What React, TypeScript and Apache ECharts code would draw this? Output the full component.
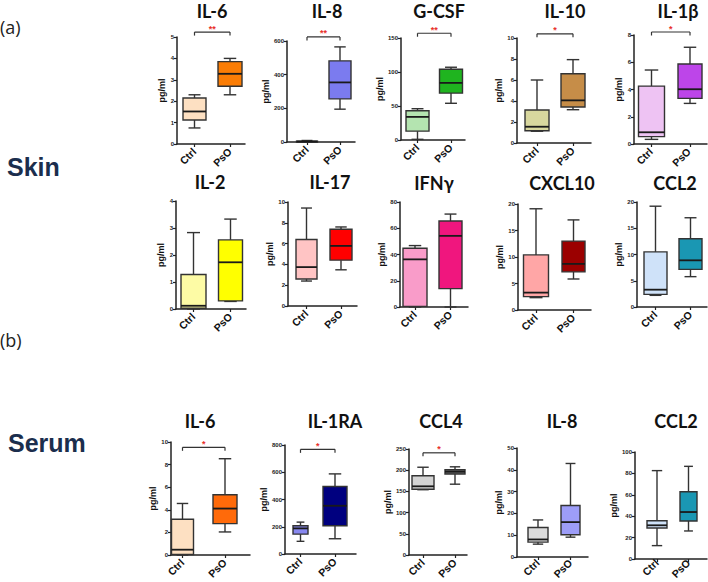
import React, { useEffect, useRef } from "react";
import * as echarts from "echarts";

// ---------- data ----------
const groups = ["Ctrl", "PsO"];

// [min, Q1, median, Q3, max] for Ctrl and PsO
const skinIL6 = [[0.75, 1.12, 1.52, 2.15, 2.3], [2.3, 2.7, 3.28, 3.85, 4.0]];
const skinIL8 = [[0, 1, 3, 5, 9], [195, 256, 354, 482, 565]];
const skinGCSF = [[1, 13, 34, 43, 46], [54, 69, 84, 104, 107]];
const skinIL10 = [[1.12, 1.17, 1.55, 3.15, 6.0], [3.17, 3.43, 4.06, 6.6, 7.94]];
const skinIL1b = [[0.34, 0.54, 0.86, 4.25, 5.43], [2.98, 3.35, 4.02, 5.87, 7.1]];
const skinIL2 = [[0, 0.03, 0.12, 1.28, 2.83], [0.28, 0.3, 1.73, 2.56, 3.33]];
const skinIL17 = [[2.4, 2.59, 3.74, 6.39, 9.42], [3.48, 4.41, 5.78, 7.38, 7.6]];
const skinIFNg = [[0, 0.5, 36.3, 44.8, 46.8], [0, 14, 54.2, 65.5, 70.8]];
const skinCXCL10 = [[2.33, 2.52, 3.28, 10.4, 19.1], [5.85, 7.2, 8.7, 13.0, 17.0]];
const skinCCL2 = [[2.22, 2.41, 3.3, 10.5, 19.2], [5.78, 7.17, 8.89, 13.0, 17.0]];
const serumIL6 = [[0, 0.05, 0.47, 3.17, 4.56], [2.04, 2.78, 4.11, 5.33, 8.52]];
const serumIL1RA = [[93, 146, 188, 207, 234], [112, 207, 354, 495, 588]];
const serumCCL4 = [[154, 155, 162, 187, 207], [167, 191, 196.5, 201, 208]];
const serumIL8 = [[5.9, 6.84, 8.05, 13.5, 17.0], [9.1, 10.2, 16.0, 23.6, 42.9]];
const serumCCL2 = [[12.5, 29, 31.5, 35.8, 82.6], [26.2, 35.5, 43.9, 62.9, 86.6]];

const panelNames = [
  "IL-6", "IL-8", "G-CSF", "IL-10", "IL-1β",
  "IL-2", "IL-17", "IFNγ", "CXCL10", "CCL2",
  "IL-6", "IL-1RA", "CCL4", "IL-8", "CCL2",
];
const panelStats = [
  skinIL6, skinIL8, skinGCSF, skinIL10, skinIL1b,
  skinIL2, skinIL17, skinIFNg, skinCXCL10, skinCCL2,
  serumIL6, serumIL1RA, serumCCL4, serumIL8, serumCCL2,
];
// y axis max and tick step
const axisMax = [5, 600, 150, 10, 8, 4, 10, 80, 20, 20, 10, 800, 250, 50, 100];
const axisStep = [1, 200, 50, 2, 2, 1, 2, 20, 5, 5, 2, 200, 50, 10, 20];
// significance brackets
const sigPanels = [0, 1, 2, 3, 4, 10, 11, 12];
const sigLevels = [5.23, 624, 157, 10.4, 8.22, 9.53, 768, 241];
const sigStars = ["**", "**", "**", "*", "*", "*", "*", "*"];

// ---------- styles / layout ----------
const panelColors = [
  ["#fde0c2", "#fb7d05"], ["#8c8cf5", "#7b7bef"], ["#b4e4b0", "#1fb41f"],
  ["#d8d79e", "#c68d48"], ["#eec3f3", "#bd45e9"],
  ["#fdfba5", "#ffff00"], ["#ffc4c4", "#ff0000"], ["#f99cc9", "#f0167e"],
  ["#ffa6a6", "#9b0000"], ["#cfe2f9", "#1a97b3"],
  ["#fde0c2", "#ff6a0a"], ["#8888f0", "#00007f"], ["#d4d4d4", "#747474"],
  ["#dcdcdc", "#9d9df8"], ["#cfe2f9", "#1a97b3"],
];
// [axisX, ctrlCenter, psoCenter, axisEnd, top, bottom, boxW1, boxW2, titleX, titleY]
const layout = [
  [177, 194.5, 230, 245, 37, 144, 23, 24, 212, 11],
  [287, 307, 340, 355, 41, 142, 21, 22, 327, 11],
  [401, 417.5, 451, 465, 38, 140, 23, 23, 439, 11],
  [517, 537, 573, 591, 38, 143, 24, 24, 565, 11],
  [634, 651.5, 690, 707, 35, 144, 26, 24, 678, 11],
  [176, 193.5, 230.5, 246, 201, 309, 25, 24, 210, 182],
  [288, 306.5, 341, 357, 202, 306, 21, 22, 330, 182],
  [400, 415, 450.5, 468, 202, 307, 24, 23, 434, 183],
  [518, 536, 573.5, 591, 204, 310, 25, 23, 562, 183],
  [637, 655.5, 690.5, 707, 202, 307, 23, 23, 675, 183],
  [171, 182.5, 225, 250, 442, 555, 22, 24, 200, 421],
  [285, 300.5, 335, 356, 445, 554, 15, 24, 335, 421],
  [409, 423, 455, 467, 449, 555, 22, 20, 441, 421],
  [517, 538, 570.5, 588, 448, 557, 20, 19, 562, 421],
  [635, 657, 688.5, 707, 452, 559, 20, 17, 676, 421],
];

const AXIS = "#222";
const STROKE = "#333";
const FONT = '"Liberation Sans", Arial, sans-serif';

export default function App() {
  const ref = useRef<HTMLDivElement>(null);
  useEffect(() => {
    document.body.style.margin = "0";
    if (!ref.current) return;
    const chart = echarts.init(ref.current, undefined, { renderer: "svg" });

    const n = panelNames.length;
    const grids: any[] = [];
    const xAxes: any[] = [];
    const yAxes: any[] = [];
    const series: any[] = [];
    const graphics: any[] = [];

    panelNames.forEach((name, i) => {
      const [ax, c1, c2, end, top, bottom, w1, w2, tx, ty] = layout[i];
      const d = c2 - c1;
      grids[i] = { left: ax, top, width: end - ax, height: bottom - top, containLabel: false };
      grids[n + i] = { left: c1 - d / 2, top, width: 2 * d, height: bottom - top, containLabel: false };

      xAxes[i] = {
        type: "value",
        gridIndex: i,
        min: (ax - c1) / d,
        max: (end - c1) / d,
        splitLine: { show: false },
        axisLine: { onZero: false, lineStyle: { color: AXIS, width: 1.5 } },
        axisTick: { customValues: [0, 1], length: 3, lineStyle: { color: AXIS, width: 1.2 } },
        axisLabel: { show: false },
      };
      xAxes[n + i] = {
        type: "category",
        gridIndex: n + i,
        data: groups,
        axisLine: { show: false },
        axisTick: { show: false },
        splitLine: { show: false },
        axisLabel: {
          rotate: 45,
          margin: 6,
          fontSize: 10.5,
          fontWeight: "bold",
          fontFamily: FONT,
          color: "#111",
          interval: 0,
        },
      };
      const maxLabelLen = String(axisMax[i]).length;
      yAxes[i] = {
        type: "value",
        gridIndex: i,
        min: 0,
        max: axisMax[i],
        interval: axisStep[i],
        name: "pg/ml",
        nameLocation: "middle",
        nameRotate: 90,
        nameGap: 6 + maxLabelLen * 3.6,
        nameTextStyle: { fontSize: 9, fontWeight: "bold", fontFamily: FONT, color: "#111" },
        splitLine: { show: false },
        axisLine: { show: true, onZero: false, lineStyle: { color: AXIS, width: 1.5 } },
        axisTick: { show: true, length: 3, lineStyle: { color: AXIS, width: 1.2 } },
        axisLabel: { fontSize: 6, fontWeight: "bold", margin: 3, fontFamily: FONT, color: "#222" },
      };
      yAxes[n + i] = { type: "value", gridIndex: n + i, show: false, min: 0, max: 1 };

      const colors = panelColors[i];
      const widths = [w1, w2];
      series.push({
        type: "custom",
        xAxisIndex: i,
        yAxisIndex: i,
        clip: false,
        data: panelStats[i].map((s, k) => [k, ...s]),
        encode: { x: 0, y: [1, 2, 3, 4, 5] },
        renderItem: (params: any, api: any) => {
          const k = api.value(0);
          const p = [1, 2, 3, 4, 5].map((j) => api.coord([k, api.value(j)]));
          const x = p[0][0];
          const w = widths[params.dataIndex];
          const hw = w / 2;
          const cw = w * 0.26;
          const ls = { stroke: STROKE, lineWidth: 1.4 };
          return {
            type: "group",
            children: [
              { type: "line", shape: { x1: x, y1: p[4][1], x2: x, y2: p[3][1] }, style: ls },
              { type: "line", shape: { x1: x, y1: p[1][1], x2: x, y2: p[0][1] }, style: ls },
              { type: "line", shape: { x1: x - cw, y1: p[4][1], x2: x + cw, y2: p[4][1] }, style: ls },
              { type: "line", shape: { x1: x - cw, y1: p[0][1], x2: x + cw, y2: p[0][1] }, style: ls },
              {
                type: "rect",
                shape: { x: x - hw, y: p[3][1], width: w, height: Math.max(p[1][1] - p[3][1], 1) },
                style: { fill: colors[params.dataIndex], stroke: STROKE, lineWidth: 1.4 },
              },
              { type: "line", shape: { x1: x - hw, y1: p[2][1], x2: x + hw, y2: p[2][1] }, style: { stroke: "#1a1a1a", lineWidth: 1.8 } },
            ],
          };
        },
      });
      graphics.push({
        type: "text",
        x: tx,
        y: ty,
        style: {
          text: name,
          font: 'bold 18px Lato, "Open Sans", sans-serif',
          fill: "#111",
          textAlign: "center",
          textVerticalAlign: "middle",
        },
      });
    });

    sigPanels.forEach((pi, j) => {
      const stars = sigStars[j];
      series.push({
        type: "custom",
        xAxisIndex: pi,
        yAxisIndex: pi,
        clip: false,
        data: [[0, 1, sigLevels[j]]],
        encode: { x: [0, 1], y: 2 },
        renderItem: (params: any, api: any) => {
          const a = api.coord([api.value(0), api.value(2)]);
          const b = api.coord([api.value(1), api.value(2)]);
          const ls = { stroke: STROKE, lineWidth: 1.2 };
          return {
            type: "group",
            children: [
              { type: "line", shape: { x1: a[0], y1: a[1] + 3.5, x2: a[0], y2: a[1] }, style: ls },
              { type: "line", shape: { x1: a[0], y1: a[1], x2: b[0], y2: b[1] }, style: ls },
              { type: "line", shape: { x1: b[0], y1: b[1], x2: b[0], y2: b[1] + 3.5 }, style: ls },
              {
                type: "text",
                x: (a[0] + b[0]) / 2,
                y: a[1] + 1,
                style: { text: stars, fill: "#e8302a", font: "bold 9px Arial, sans-serif", textAlign: "center", textVerticalAlign: "bottom" },
              },
            ],
          };
        },
      });
    });

    graphics.push(
      { type: "text", x: 0, y: 27, style: { text: "(a)", font: '18px "Open Sans", sans-serif', fill: "#222", textVerticalAlign: "middle" } },
      { type: "text", x: 7, y: 167, style: { text: "Skin", font: 'bold 25px "Liberation Sans", Arial, sans-serif', fill: "#1b2e4d", textVerticalAlign: "middle" } },
      { type: "text", x: 0, y: 340, style: { text: "(b)", font: '18px "Open Sans", sans-serif', fill: "#222", textVerticalAlign: "middle" } },
      { type: "text", x: 8, y: 443, style: { text: "Serum", font: 'bold 25px "Liberation Sans", Arial, sans-serif', fill: "#1b2e4d", textVerticalAlign: "middle" } }
    );

    chart.setOption({
      animation: false,
      backgroundColor: "#ffffff",
      grid: grids,
      xAxis: xAxes,
      yAxis: yAxes,
      series,
      graphic: graphics,
    });
    return () => chart.dispose();
  }, []);
  return <div ref={ref} style={{ width: 708, height: 582 }} />;
}
